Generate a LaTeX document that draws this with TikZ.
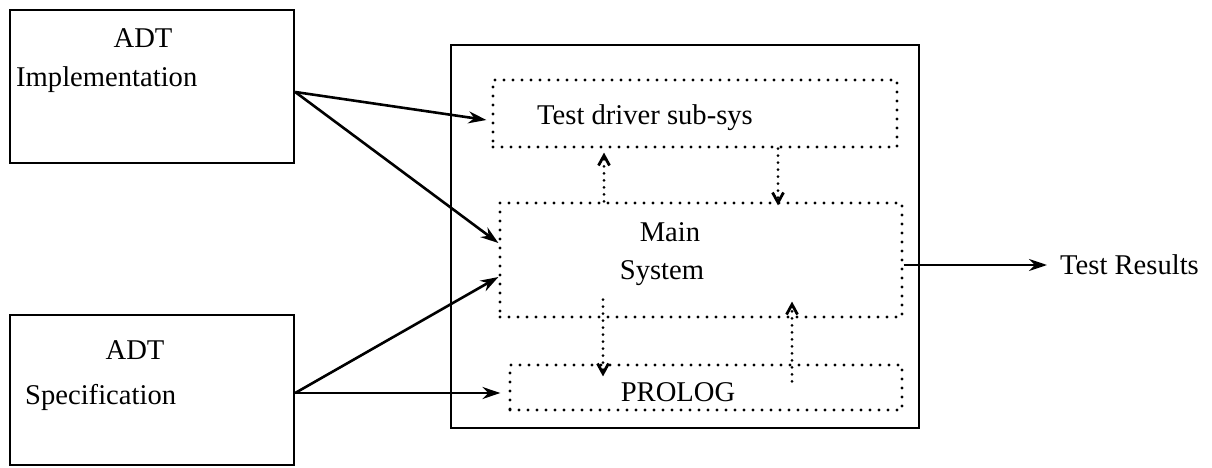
\documentclass[tikz,border=0pt]{standalone}
\usepackage{fontspec}
\setmainfont{Liberation Serif}
\usetikzlibrary{arrows.meta}
\begin{document}
\begin{tikzpicture}[x=1pt,y=-1pt,
  every node/.style={font=\fontsize{28.6}{34}\selectfont, inner sep=0pt},
  dotbox/.style={draw, line width=3.2pt, dash pattern=on 0pt off 9pt, line cap=round},
  flow/.style={line width=2.6pt, -{Stealth[length=18pt,width=12pt]}},
  dotflow/.style={line width=3pt, dash pattern=on 0pt off 7pt, line cap=round,
    -{Straight Barb[length=10pt,width=11pt,line width=2.8pt]}}
]
\useasboundingbox (0,0) rectangle (1212,468);

% input boxes
\node[draw, line width=2.4pt, minimum width=284pt, minimum height=153pt] (impl) at (152,86.5) {};
\node (implA) at (143,38) {ADT};
\node[anchor=west] (implB) at (16,80) {Implementation};

\node[draw, line width=2.4pt, minimum width=284pt, minimum height=150pt] (spec) at (152,390) {};
\node (specA) at (135,350) {ADT};
\node[anchor=west] (specB) at (25,397) {Specification};

% system frame
\node[draw, line width=2.4pt, minimum width=468pt, minimum height=383pt] (frame) at (685,236.5) {};

% subsystems
\node[dotbox, minimum width=404pt, minimum height=67pt] (driver) at (695,113.5) {};
\node[anchor=west] (driverT) at (537,118) {Test driver sub-sys};

\node[dotbox, minimum width=402pt, minimum height=114pt] (main) at (701,260) {};
\node (mainA) at (670,232) {Main};
\node (mainB) at (662,273) {System};

\node[dotbox, minimum width=392pt, minimum height=45pt] (prolog) at (706,387.5) {};
\node (prologT) at (678,392) {PROLOG};

% output
\node[anchor=west] (res) at (1060,265) {Test Results};

% data flow into the system
\draw[flow] ([yshift=-5.5pt]impl.east) -- ([xshift=-5pt,yshift=-6.5pt]driver.west);
\draw[flow] ([yshift=-5.5pt]impl.east) -- ([yshift=17pt]main.west);
\draw[flow] ([yshift=-3pt]spec.east) -- ([yshift=-17pt]main.west);
\draw[flow] ([yshift=-3pt]spec.east) -- ([xshift=-8pt,yshift=-5.5pt]prolog.west);

% internal exchanges
\draw[dotflow] ([xshift=-97pt]main.north) -- ([xshift=-91pt,yshift=-4pt]driver.south);
\draw[dotflow] ([xshift=83pt]driver.south) -- ([xshift=77pt,yshift=-4pt]main.north);
\draw[dotflow] ([xshift=-98pt,yshift=19pt]main.south) -- ([xshift=-103pt,yshift=-13pt]prolog.north);
\draw[dotflow] ([xshift=86pt,yshift=-18pt]prolog.north) -- ([xshift=91pt,yshift=17pt]main.south);

% result
\draw[flow] ([yshift=-5pt]main.east) -- ([xshift=-13pt]res.west);
\end{tikzpicture}
\end{document}
